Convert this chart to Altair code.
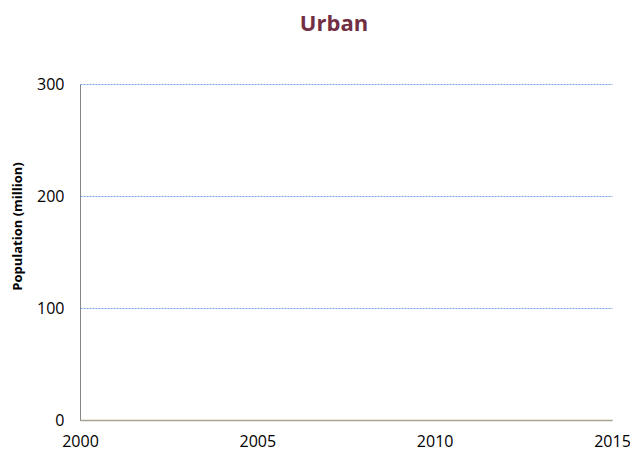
import altair as alt
import pandas as pd

years = [2000, 2005, 2010, 2015]
urban = [None, None, None, None]
x_ticks = [2000, 2005, 2010, 2015]
y_ticks = [0, 100, 200, 300]

df = pd.DataFrame({"Year": years, "Urban": urban})

chart = alt.Chart(df).mark_line(color="#722f44").encode(
    x=alt.X("Year:Q",
            scale=alt.Scale(domain=[2000, 2015], nice=False, zero=False),
            axis=alt.Axis(values=x_ticks, format="d", title=None, grid=False,
                          ticks=False, domainColor="#a8a291", domainWidth=1.5,
                          labelFont="Open Sans", labelFontSize=16, labelColor="#000000",
                          labelPadding=13, labelFlush=False)),
    y=alt.Y("Urban:Q",
            scale=alt.Scale(domain=[0, 300], nice=False),
            axis=alt.Axis(values=y_ticks, title="Population (million)",
                          grid=True, gridColor="#7ba2e0", gridDash=[2, 1], gridWidth=1,
                          ticks=False, domainColor="#868686", domainWidth=1,
                          labelFont="Open Sans", labelFontSize=16, labelColor="#000000",
                          labelPadding=16,
                          titleFont="Open Sans", titleFontSize=13, titleFontWeight="bold",
                          titleColor="#000000", titleX=-56, titleY=142, titleAngle=-90)),
).properties(
    width=532, height=336,
    title=alt.TitleParams("Urban", font="Open Sans", fontSize=22, fontWeight="bold",
                          color="#722f44", anchor="middle", dx=-12, offset=40),
    autosize=alt.AutoSizeParams(type="none"),
    padding={"left": 72, "top": 76, "right": 18, "bottom": 32},
    background="#ffffff",
).configure_view(stroke=None)

chart.save("out.html", embed_options={"renderer": "svg", "actions": False})
